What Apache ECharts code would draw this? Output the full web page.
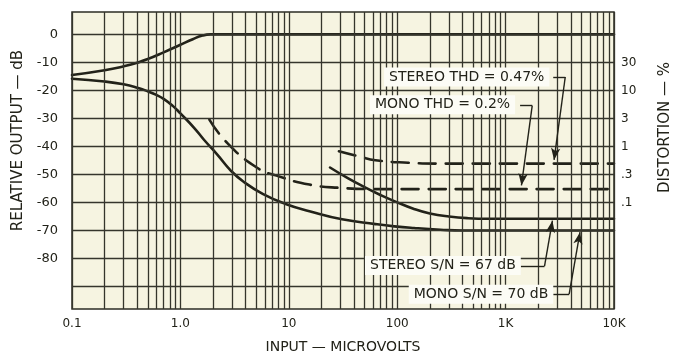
<!DOCTYPE html>
<html>
<head>
<meta charset="utf-8">
<script src="https://cdn.jsdelivr.net/npm/echarts@6/dist/echarts.min.js"></script>
<style>
html,body{margin:0;padding:0;background:#fff;}
#chart{width:681px;height:359px;}
</style>
</head>
<body>
<div id="chart"></div>
<script>
// input in microvolts (log axis), output in dB
var xTicks = [0.1, 1, 10, 100, 1000, 10000];
var xTickLabels = ['0.1', '1.0', '10', '100', '1K', '10K'];
var gridSteps = [1, 2, 3, 4, 5, 6, 7, 8, 9];
var dbTicks = [0, -10, -20, -30, -40, -50, -60, -70, -80];
var dbGrid = [0, -10, -20, -30, -40, -50, -60, -70, -80, -90];
var distTicks = [-10, -20, -30, -40, -50, -60];
var distLabels = ['30', '10', '3', '1', '.3', '.1'];

// curves: [microvolts, dB]
var outputLevel = [[0.1,-14.5],[0.2,-12.8],[0.3,-11.4],[0.4,-10.1],[0.5,-8.8],[0.7,-6.4],[1.0,-3.7],[1.3,-1.7],[1.6,-0.4],[1.9,0],[10000,0]];
var monoNoise = [[0.1,-15.8],[0.2,-16.8],[0.3,-17.8],[0.4,-19],[0.5,-20.3],[0.6,-21.6],[0.7,-23],[0.85,-25.5],[1.0,-28.2],[1.35,-33.5],[1.65,-37.6],[2.2,-43],[2.9,-48.5],[3.8,-52.5],[5.8,-57],[9.5,-60.6],[15.5,-63.1],[31,-66],[63,-67.7],[94,-68.5],[143,-69.1],[250,-69.7],[400,-70],[10000,-70]];
var stereoNoise = [[24,-47.5],[35,-51.3],[50,-54.5],[70,-57.3],[94,-59.5],[143,-62.3],[200,-63.9],[300,-65],[450,-65.6],[700,-65.8],[10000,-65.8]];
var monoThd = [[1.85,-30.4],[2.7,-38.7],[5.1,-47.6],[7.7,-50.4],[15.5,-53.6],[31,-54.8],[60,-55.2],[10000,-55.2]];
var stereoThd = [[29,-41.7],[45,-43.6],[63,-44.9],[126,-45.8],[250,-46.1],[10000,-46.1]];

// callouts: text anchor and leader path (last point gets the arrow)
var noteTexts = ['STEREO THD = 0.47%', 'MONO THD = 0.2%', 'STEREO S/N = 67 dB', 'MONO S/N = 70 dB'];
var noteAt = [[438,-15.2],[262,-25.1],[264,-82.5],[593,-92.7]];
var noteLeaders = [
    [[2750,-15.2],[3550,-15.2],[2800,-44.8]],
    [[1360,-25.4],[1760,-25.4],[1400,-53.9]],
    [[1380,-82.7],[2286,-82.7],[2704,-66.5]],
    [[2750,-92.7],[3858,-92.7],[4858,-70.6]]
];

var ink = '#222219';
var font = 'DejaVu Sans';

var gridLines = [];
for (var d = 0; d < xTicks.length - 1; d++) {
    for (var s = 0; s < gridSteps.length; s++) {
        gridLines.push({xAxis: xTicks[d] * gridSteps[s]});
    }
}
gridLines.push({xAxis: xTicks[xTicks.length - 1]});
for (var i = 0; i < dbGrid.length; i++) {
    gridLines.push({yAxis: dbGrid[i]});
}

var leaderLines = [];
for (var n = 0; n < noteLeaders.length; n++) {
    var p = noteLeaders[n];
    leaderLines.push([{coord: p[0], symbol: 'none'}, {coord: p[1], symbol: 'none'}]);
    leaderLines.push([{coord: p[1], symbol: 'none'}, {coord: p[2], symbol: 'arrow'}]);
}
var notePoints = [];
for (var k = 0; k < noteTexts.length; k++) {
    notePoints.push({coord: noteAt[k], value: noteTexts[k]});
}

function curve(name, data, dashed) {
    return {
        name: name,
        type: 'line',
        data: data,
        showSymbol: false,
        smooth: 0.5,
        z: 3,
        lineStyle: {color: ink, width: 2.6, type: dashed ? [17, 10] : 'solid', cap: 'round', join: 'round'},
        animation: false
    };
}

var chart = echarts.init(document.getElementById('chart'));
var option = {
    backgroundColor: '#ffffff',
    animation: false,
    grid: {
        left: 72, right: 60, top: 12, bottom: 49,
        show: true,
        backgroundColor: '#f6f4e1',
        borderColor: '#2c2c24',
        borderWidth: 1.5
    },
    xAxis: {
        type: 'log',
        logBase: 10,
        min: 0.1,
        max: 10000,
        name: 'INPUT — MICROVOLTS',
        nameLocation: 'middle',
        nameGap: 31,
        nameTextStyle: {fontFamily: font, fontSize: 14, color: ink},
        axisLine: {show: false},
        axisTick: {show: false},
        splitLine: {show: false},
        axisLabel: {
            margin: 9,
            fontFamily: font,
            fontSize: 12,
            color: ink,
            formatter: function (v) {
                var idx = Math.round(Math.log(v) / Math.LN10) + 1;
                return xTickLabels[idx] || '';
            }
        }
    },
    yAxis: [
        {
            type: 'value',
            min: -98,
            max: 8,
            name: 'RELATIVE OUTPUT — dB',
            nameLocation: 'middle',
            nameGap: 44,
            nameTextStyle: {fontFamily: font, fontSize: 15, color: ink, padding: [0, 0, 0, 40]},
            axisLine: {show: false},
            axisTick: {show: false},
            splitLine: {show: false},
            axisLabel: {
                customValues: dbTicks,
                margin: 14,
                fontFamily: font,
                fontSize: 13,
                color: ink
            }
        },
        {
            type: 'value',
            position: 'right',
            min: -98,
            max: 8,
            name: 'DISTORTION — %',
            nameLocation: 'middle',
            nameGap: 44,
            nameTextStyle: {fontFamily: font, fontSize: 15, color: ink, padding: [0, 0, 0, 66]},
            axisLine: {show: false},
            axisTick: {show: false},
            splitLine: {show: false},
            axisLabel: {
                customValues: distTicks,
                margin: 7,
                fontFamily: font,
                fontSize: 12,
                color: ink,
                formatter: function (v) {
                    var idx = distTicks.indexOf(Math.round(v));
                    return idx >= 0 ? distLabels[idx] : '';
                }
            }
        }
    ],
    series: [
        {
            name: 'paper',
            type: 'line',
            data: [],
            z: 1,
            silent: true,
            markLine: {
                silent: true,
                symbol: 'none',
                label: {show: false},
                lineStyle: {color: '#35352c', width: 1.3, type: 'solid'},
                emphasis: {disabled: true},
                animation: false,
                data: gridLines
            }
        },
        curve('Output', outputLevel, false),
        curve('Mono noise', monoNoise, false),
        curve('Stereo noise', stereoNoise, false),
        curve('Mono THD', monoThd, true),
        curve('Stereo THD', stereoThd, true),
        {
            name: 'notes',
            type: 'line',
            data: [],
            z: 5,
            silent: true,
            markLine: {
                silent: true,
                symbolSize: [7, 12],
                label: {show: false},
                lineStyle: {color: ink, width: 1.4, type: 'solid'},
                emphasis: {disabled: true},
                animation: false,
                data: leaderLines
            },
            markPoint: {
                silent: true,
                symbol: 'rect',
                symbolSize: 1,
                itemStyle: {color: 'rgba(0,0,0,0)'},
                animation: false,
                label: {
                    show: true,
                    position: 'inside',
                    formatter: '{c}',
                    fontFamily: font,
                    fontSize: 14,
                    color: ink,
                    backgroundColor: '#fcfcf6',
                    padding: [3, 5, 2, 5]
                },
                data: notePoints
            }
        }
    ]
};
chart.setOption(option);
</script>
</body>
</html>
